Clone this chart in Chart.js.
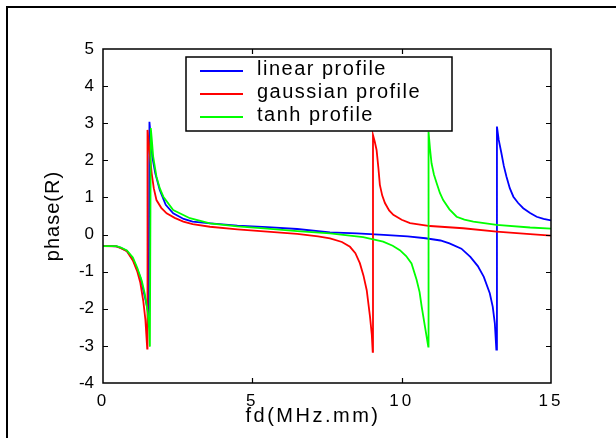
<!DOCTYPE html>
<html>
<head>
<meta charset="utf-8">
<script src="https://cdn.jsdelivr.net/npm/chart.js@4.4.1/dist/chart.umd.min.js"></script>
<style>
  html, body { margin: 0; padding: 0; background: #fff; overflow: hidden; }
  #wrap { position: relative; width: 616px; height: 438px; }
  #frame { position: absolute; left: 6px; top: 6px; width: 700px; height: 600px; border: 2px solid #000; pointer-events: none; }
  canvas { position: absolute; left: 0; top: 0; }
</style>
</head>
<body>
<div id="wrap">
  <canvas id="c" width="616" height="438"></canvas>
  <div id="frame"></div>
</div>
<script>
// ---- data ----
const seriesNames = ['linear profile', 'gaussian profile', 'tanh profile'];
const seriesColors = ['#0000ff', '#ff0000', '#00ff00'];

const linearX = [0, 0.3, 0.45, 0.6, 0.8, 1.0, 1.15, 1.25, 1.35, 1.45, 1.53, 1.555, 1.6, 1.65, 1.75, 1.9, 2.1, 2.35, 2.7, 3.0, 3.6, 4.5, 5.5, 6.5, 7.6, 8.5, 9.4, 10.2, 10.8, 11.3, 11.6, 12.0, 12.3, 12.55, 12.75, 12.95, 13.05, 13.12, 13.17, 13.19, 13.25, 13.34, 13.42, 13.51, 13.62, 13.74, 13.9, 14.07, 14.3, 14.52, 14.75, 15];
const linearY = [-0.31, -0.31, -0.32, -0.36, -0.44, -0.66, -0.95, -1.15, -1.5, -1.85, -2.15, 3.04, 2.6, 2.1, 1.65, 1.2, 0.8, 0.57, 0.42, 0.35, 0.30, 0.24, 0.2, 0.15, 0.06, 0.03, -0.01, -0.05, -0.1, -0.16, -0.24, -0.38, -0.6, -0.85, -1.14, -1.58, -1.95, -2.4, -3.1, 2.91, 2.55, 2.19, 1.85, 1.56, 1.25, 1.02, 0.85, 0.71, 0.58, 0.48, 0.42, 0.38];

const gaussX = [0, 0.45, 0.6, 0.8, 1.0, 1.15, 1.25, 1.35, 1.42, 1.48, 1.49, 1.55, 1.63, 1.7, 1.79, 1.95, 2.13, 2.4, 2.69, 3.0, 3.58, 4.5, 5.5, 6.5, 7.2, 7.6, 8.0, 8.27, 8.45, 8.6, 8.72, 8.83, 8.94, 9.0, 9.03, 9.04, 9.1, 9.16, 9.22, 9.27, 9.35, 9.44, 9.58, 9.72, 10.0, 10.28, 10.95, 12.06, 13.18, 14.3, 15];
const gaussY = [-0.31, -0.32, -0.37, -0.45, -0.7, -1.0, -1.3, -1.8, -2.3, -3.07, 2.82, 2.3, 1.65, 1.25, 0.93, 0.72, 0.57, 0.45, 0.35, 0.28, 0.21, 0.14, 0.08, 0.02, -0.05, -0.1, -0.2, -0.33, -0.5, -0.77, -1.1, -1.5, -2.21, -2.7, -3.16, 2.68, 2.5, 2.28, 1.8, 1.34, 1.05, 0.85, 0.65, 0.53, 0.4, 0.31, 0.23, 0.17, 0.08, 0.01, -0.03];

const tanhX = [0, 0.45, 0.6, 0.8, 1.0, 1.15, 1.3, 1.4, 1.5, 1.55, 1.57, 1.6, 1.63, 1.68, 1.79, 1.9, 2.02, 2.35, 2.91, 3.58, 4.5, 5.5, 6.5, 7.6, 8.71, 9.38, 9.7, 9.94, 10.15, 10.33, 10.5, 10.6, 10.67, 10.78, 10.89, 10.9, 10.95, 11.0, 11.08, 11.17, 11.28, 11.39, 11.6, 11.84, 12.1, 12.4, 13.18, 14.3, 15];
const tanhY = [-0.31, -0.31, -0.35, -0.43, -0.62, -0.9, -1.25, -1.6, -2.1, -2.6, -3.02, 2.87, 2.6, 2.1, 1.56, 1.25, 1.02, 0.66, 0.44, 0.30, 0.22, 0.16, 0.09, 0.03, -0.07, -0.19, -0.3, -0.42, -0.58, -0.78, -1.22, -1.55, -1.94, -2.48, -3.02, 2.77, 2.3, 1.92, 1.62, 1.39, 1.12, 0.93, 0.68, 0.48, 0.4, 0.35, 0.26, 0.19, 0.16];

const xTicks = [0, 5, 10, 15];
const yTicks = [-4, -3, -2, -1, 0, 1, 2, 3, 4, 5];
const xTitle = 'fd(MHz.mm)';
const yTitle = 'phase(R)';

// ---- build ----
function pts(xs, ys) { return xs.map((x, i) => ({ x: x, y: ys[i] })); }
const allX = [linearX, gaussX, tanhX];
const allY = [linearY, gaussY, tanhY];

const FONT = "'Liberation Sans', Arial, sans-serif";
Chart.defaults.font.family = FONT;
Chart.defaults.color = '#000';

const datasets = seriesNames.map((name, i) => ({
  label: name,
  data: pts(allX[i], allY[i]),
  borderColor: seriesColors[i],
  backgroundColor: seriesColors[i],
  borderWidth: 1.8,
  pointRadius: 0,
  showLine: true,
  tension: 0,
  fill: false,
  order: 3 - i
}));

const patchPlugin = {
  id: 'patch',
  afterLayout(chart) {
    const xs = chart.scales.x, ys = chart.scales.y;
    if (!xs._patched) {
      const dl = xs.drawLabels, dt = xs.drawTitle;
      xs.drawLabels = function (a) { const c = this.ctx; c.save(); c.letterSpacing = '3px'; dl.call(this, a); c.restore(); };
      xs.drawTitle = function () { const c = this.ctx; c.save(); c.letterSpacing = '2.5px'; c.translate(-14, 0); dt.call(this); c.restore(); };
      xs._patched = true;
    }
    if (!ys._patched) {
      const dt = ys.drawTitle;
      ys.drawTitle = function () { const c = this.ctx; c.save(); c.letterSpacing = '1px'; dt.call(this); c.restore(); };
      ys._patched = true;
    }
  }
};

const boxPlugin = {
  id: 'box',
  afterDatasetsDraw(chart) {
    const { ctx, chartArea: a, scales: { x, y } } = chart;
    ctx.save();
    ctx.strokeStyle = '#000';
    ctx.lineWidth = 1.5;
    ctx.strokeRect(a.left, a.top, a.right - a.left, a.bottom - a.top);
    ctx.lineWidth = 1.2;
    ctx.beginPath();
    const L = 5;
    xTicks.forEach(v => {
      const px = Math.round(x.getPixelForValue(v)) + 0.5;
      if (px <= a.left + 1 || px >= a.right - 1) return;
      ctx.moveTo(px, a.bottom); ctx.lineTo(px, a.bottom - L);
      ctx.moveTo(px, a.top); ctx.lineTo(px, a.top + L);
    });
    yTicks.forEach(v => {
      const py = Math.round(y.getPixelForValue(v)) + 0.5;
      if (py <= a.top + 1 || py >= a.bottom - 1) return;
      ctx.moveTo(a.left, py); ctx.lineTo(a.left + L, py);
      ctx.moveTo(a.right, py); ctx.lineTo(a.right - L, py);
    });
    ctx.stroke();
    ctx.restore();
  }
};

const legendPlugin = {
  id: 'myLegend',
  afterDraw(chart) {
    const ctx = chart.ctx;
    const bx = 186, by = 57, bw = 266, bh = 74;
    ctx.save();
    ctx.fillStyle = '#fff';
    ctx.fillRect(bx, by, bw, bh);
    ctx.strokeStyle = '#000';
    ctx.lineWidth = 1.5;
    ctx.strokeRect(bx, by, bw, bh);
    const rows = [71, 94, 117];
    ctx.font = '20px ' + FONT;
    ctx.letterSpacing = '1.5px';
    ctx.textBaseline = 'middle';
    ctx.textAlign = 'left';
    seriesNames.forEach((n, i) => {
      ctx.strokeStyle = seriesColors[i];
      ctx.lineWidth = 1.8;
      ctx.beginPath();
      ctx.moveTo(200, rows[i]); ctx.lineTo(243, rows[i]);
      ctx.stroke();
      ctx.fillStyle = '#000';
      ctx.fillText(n, 257, rows[i] - 2);
    });
    ctx.restore();
  }
};

new Chart(document.getElementById('c'), {
  type: 'scatter',
  data: { datasets: datasets },
  options: {
    responsive: false,
    animation: false,
    devicePixelRatio: 1,
    layout: { padding: { left: 0, top: 49, right: 65, bottom: 0 } },
    plugins: { legend: { display: false }, tooltip: { enabled: false } },
    scales: {
      x: {
        type: 'linear', min: 0, max: 15,
        afterBuildTicks: (s) => { s.ticks = xTicks.map(v => ({ value: v })); },
        afterFit: (s) => { s.height = 55; },
        grid: { display: false, drawTicks: false },
        border: { display: false },
        ticks: { padding: 8, font: { size: 17 }, color: '#000', maxRotation: 0, autoSkip: false },
        title: { display: true, text: xTitle, font: { size: 20 }, color: '#000', padding: { top: 0, bottom: 10 } }
      },
      y: {
        type: 'linear', min: -4, max: 5,
        afterBuildTicks: (s) => { s.ticks = yTicks.map(v => ({ value: v })); },
        afterFit: (s) => { s.width = 103; },
        grid: { display: false, drawTicks: false },
        border: { display: false },
        ticks: { padding: 9, font: { size: 17 }, color: '#000', autoSkip: false },
        title: { display: true, text: yTitle, font: { size: 20 }, color: '#000', padding: { top: 41, bottom: 0 } }
      }
    }
  },
  plugins: [patchPlugin, boxPlugin, legendPlugin]
});
</script>
</body>
</html>
